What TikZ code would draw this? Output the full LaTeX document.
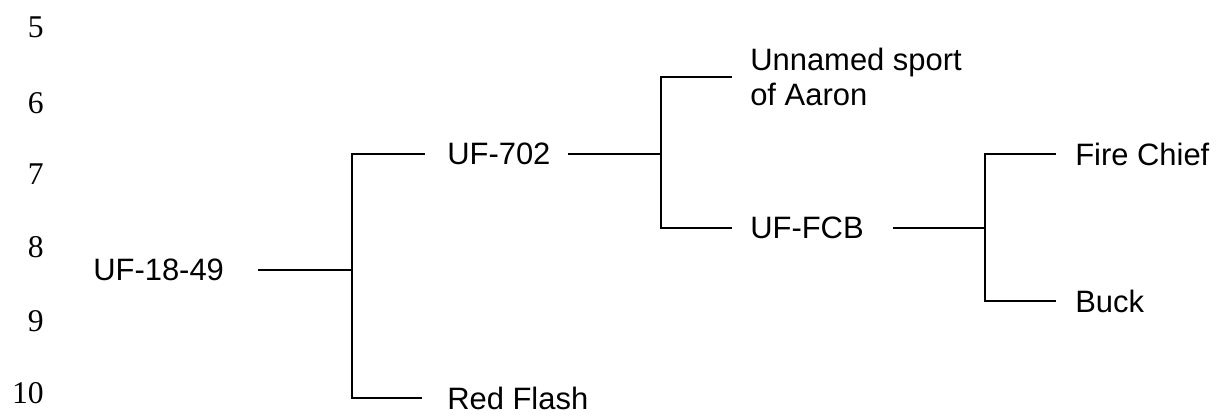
\documentclass[tikz,border=0pt]{standalone}
\usepackage{fontspec}
\setmainfont{Liberation Serif}
\newfontfamily\labelfont{Liberation Sans}
\usetikzlibrary{calc}

\tikzset{
    lbl/.style={anchor=west,inner sep=0pt,font=\labelfont\fontsize{22}{25}\selectfont},
    linenum/.style={anchor=east,inner sep=0pt,font=\fontsize{22.5}{26}\selectfont},
    branch/.style={line width=1.2pt}
}

\begin{document}
\begin{tikzpicture}[x=0.025cm,y=-0.025cm]
\useasboundingbox (0,0) rectangle (1220,417);

% line numbers
\foreach \n/\y in {5/27,6/103,7/174,8/247,9/321,10/393}
    \node[linenum] (num\n) at (44,\y) {\n};

% names
\node[lbl] (uf1849) at (93,270) {UF-18-49};
\node[lbl] (uf702) at (447,154) {UF-702};
\node[lbl] (redflash) at (447,398) {Red Flash};
\node[lbl,align=left] (unnamed) at (750,77) {Unnamed sport\\of Aaron};
\node[lbl] (uffcb) at (750,228) {UF-FCB};
\node[lbl] (firechief) at (1075,154) {Fire Chief};
\node[lbl] (buck) at (1075,301) {Buck};

% forks
\coordinate (j1) at (352,0);
\coordinate (j2) at (661,0);
\coordinate (j3) at (985,0);

\draw[branch] ([xshift=34*0.025cm]uf1849.east) -- (uf1849.east -| j1);
\draw[branch] ([xshift=-22*0.025cm]uf702.west) -| (j1 |- redflash.west)
    -- ([xshift=-25*0.025cm]redflash.west);

\draw[branch] ([xshift=17*0.025cm]uf702.east) -- (uf702.east -| j2);
\draw[branch] ([xshift=-18*0.025cm]unnamed.west) -| (j2 |- uffcb.west)
    -- ([xshift=-18*0.025cm]uffcb.west);

\draw[branch] ([xshift=29*0.025cm]uffcb.east) -- (uffcb.east -| j3);
\draw[branch] ([xshift=-19*0.025cm]firechief.west) -| (j3 |- buck.west)
    -- ([xshift=-19*0.025cm]buck.west);
\end{tikzpicture}
\end{document}
